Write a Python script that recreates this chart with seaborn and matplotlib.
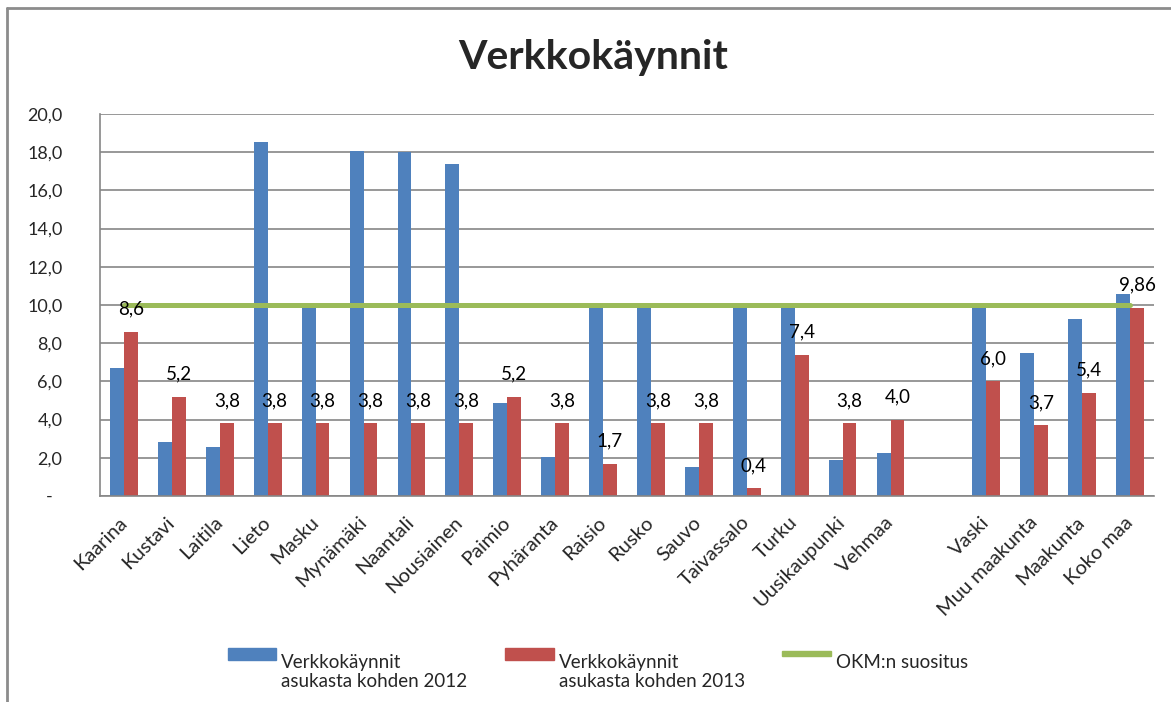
import pandas as pd
import numpy as np
import matplotlib
matplotlib.use('Agg')
import matplotlib.pyplot as plt
import seaborn as sns
from matplotlib.lines import Line2D
from matplotlib.patches import Rectangle
from matplotlib.legend_handler import HandlerPatch
from matplotlib.transforms import ScaledTranslation

# data
kunnat = ['Kaarina', 'Kustavi', 'Laitila', 'Lieto', 'Masku', 'Mynämäki', 'Naantali',
          'Nousiainen', 'Paimio', 'Pyhäranta', 'Raisio', 'Rusko', 'Sauvo', 'Taivassalo',
          'Turku', 'Uusikaupunki', 'Vehmaa', '', 'Vaski', 'Muu maakunta', 'Maakunta', 'Koko maa']
v2012 = [6.7, 2.85, 2.55, 18.55, 9.9, 18.05, 18.0, 17.4, 4.85, 2.05, 9.9, 9.9, 1.5, 9.9,
         9.9, 1.9, 2.25, np.nan, 9.9, 7.5, 9.25, 10.55]
v2013 = [8.6, 5.2, 3.8, 3.8, 3.8, 3.8, 3.8, 3.8, 5.2, 3.8, 1.7, 3.8, 3.8, 0.4,
         7.4, 3.8, 4.0, np.nan, 6.0, 3.7, 5.4, 9.86]
labels2013 = ['8,6', '5,2', '3,8', '3,8', '3,8', '3,8', '3,8', '3,8', '5,2', '3,8', '1,7',
              '3,8', '3,8', '0,4', '7,4', '3,8', '4,0', '', '6,0', '3,7', '5,4', '9,86']
suositus = [10.0] * len(kunnat)
yticks = [0, 2, 4, 6, 8, 10, 12, 14, 16, 18, 20]
ytick_labels = ['-  ', '2,0', '4,0', '6,0', '8,0', '10,0', '12,0', '14,0', '16,0', '18,0', '20,0']

sarja1 = 'Verkkokäynnit\nasukasta kohden 2012'
sarja2 = 'Verkkokäynnit\nasukasta kohden 2013'
sarja3 = 'OKM:n suositus\n '

sininen = '#4F81BD'
punainen = '#C0504D'
vihrea = '#9BBB59'

df = pd.DataFrame({
    'kunta': kunnat * 2,
    'arvo': v2012 + v2013,
    'sarja': [sarja1] * len(kunnat) + [sarja2] * len(kunnat),
})

sns.set_style('white')
plt.rcParams['font.family'] = ['Lato', 'DejaVu Sans']

fig = plt.figure(figsize=(11.71, 7.02), dpi=100)
ax = fig.add_axes([100 / 1171, 1 - 496 / 702, 1054 / 1171, 382 / 702])

sns.barplot(data=df, x='kunta', y='arvo', hue='sarja', order=kunnat,
            hue_order=[sarja1, sarja2], palette=[sininen, punainen],
            saturation=1, width=0.58, linewidth=0, ax=ax, legend=False)

x = np.arange(len(kunnat))
ax.plot(x, suositus, color=vihrea, lw=3.6, solid_capstyle='round', zorder=3)

# data labels for 2013
for xi, val, lab in zip(x, v2013, labels2013):
    if lab:
        ax.annotate(lab, (xi + 0.145, val), xytext=(0, 16.5), textcoords='offset points',
                    ha='center', va='center', fontsize=13.5, color='black')

ax.set_xlim(-0.5, len(kunnat) - 0.5)
ax.set_ylim(0, 20)
ax.set_yticks(yticks)
ax.set_yticklabels(ytick_labels, fontsize=13)
ax.set_xticks(x)
ax.set_xticklabels(kunnat, rotation=45, ha='right', va='center', rotation_mode='anchor', fontsize=14.5)
siirto = ScaledTranslation(4 / 100, 0, fig.dpi_scale_trans)
for lbl in ax.get_xticklabels():
    lbl.set_transform(lbl.get_transform() + siirto)
ax.tick_params(axis='y', length=0, pad=27)
ax.tick_params(axis='x', length=0, pad=17)
ax.set_xlabel('')
ax.set_ylabel('')
ax.grid(axis='y', color='#868686', lw=1.2)
ax.set_axisbelow(True)
for s in ['top', 'right']:
    ax.spines[s].set_visible(False)
for s in ['left', 'bottom']:
    ax.spines[s].set_color('#868686')
    ax.spines[s].set_linewidth(1.2)

fig.text(593 / 1171, 1 - 57 / 702, 'Verkkokäynnit', ha='center', va='center', fontsize=29.5, fontweight='bold')


# legend handles sit level with the first text line
def nostettu(korkeus):
    def f(legend, orig_handle, xdescent, ydescent, width, height, fontsize):
        y0 = -ydescent + height / 2 - korkeus / 2 + 1.0 * fontsize
        return Rectangle((-xdescent, y0), width, korkeus)
    return HandlerPatch(patch_func=f)


h1 = Rectangle((0, 0), 1, 1, color=sininen)
h2 = Rectangle((0, 0), 1, 1, color=punainen)
h3 = Rectangle((0, 0), 1, 1, color=vihrea)
fig.legend([h1, h2, h3], [sarja1, sarja2, sarja3], loc='center',
           bbox_to_anchor=(598 / 1171, 1 - 672 / 702), ncol=3, frameon=False,
           fontsize=13.5, handlelength=2.6, handletextpad=0.27, columnspacing=2.0,
           handler_map={h1: nostettu(8.6), h2: nostettu(8.6), h3: nostettu(3.6)})

# outer chart border
fig.add_artist(Line2D([7 / 1171, 7 / 1171], [0, 1 - 8 / 702], color='#8c8c8c', lw=2))
fig.add_artist(Line2D([7 / 1171, 1], [1 - 8 / 702, 1 - 8 / 702], color='#8c8c8c', lw=2))

fig.savefig('out.png', dpi=100)
